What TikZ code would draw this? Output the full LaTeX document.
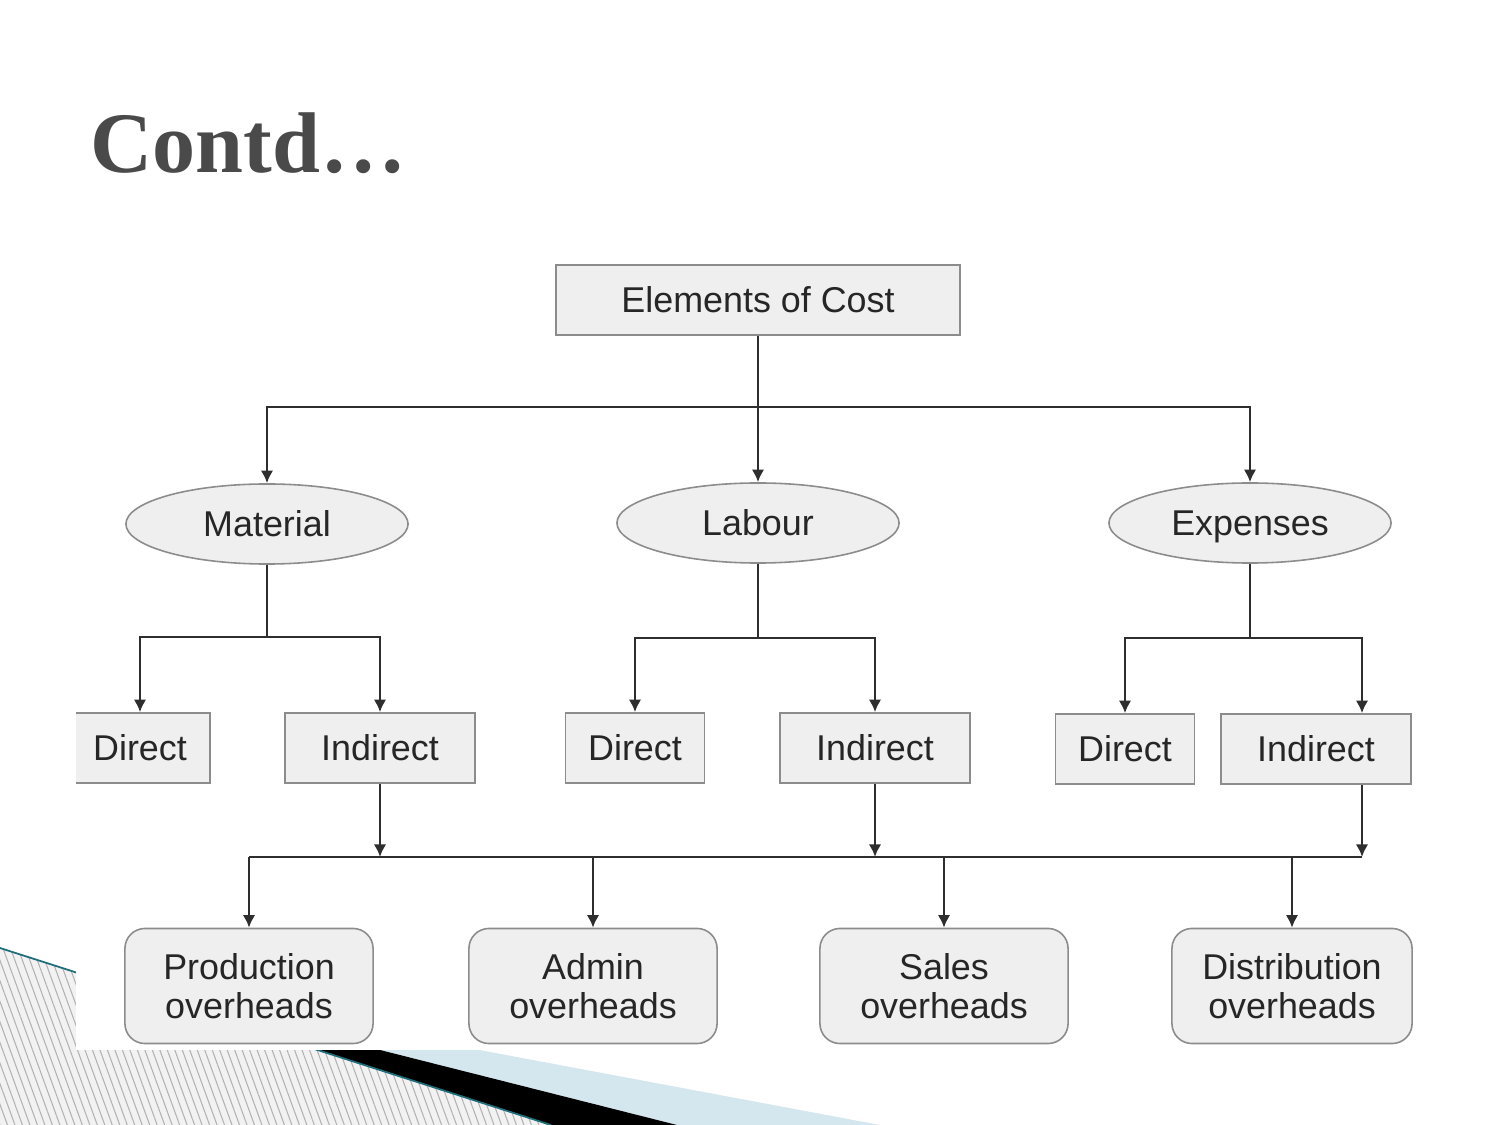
\documentclass[tikz,border=0pt]{standalone}
\usepackage{fontspec}
\setmainfont{Liberation Sans}
\newfontfamily\titlefont{Liberation Serif}
\usepackage{xcolor}
\usetikzlibrary{calc, shapes.geometric, positioning, arrows.meta, patterns.meta}

\definecolor{titlegray}{HTML}{4A4A4A}
\definecolor{boxfill}{HTML}{EFEFEF}
\definecolor{boxline}{HTML}{8C8C8C}
\definecolor{linkline}{HTML}{2E2E2E}
\definecolor{flowteal}{HTML}{1F6E7A}
\definecolor{flowblue}{HTML}{D5E7EE}

\begin{document}
\begin{tikzpicture}[x=0.01cm, y=-0.01cm,
    every node/.style={font=\fontsize{10.2}{11.1}\selectfont, text=black!85},
    oneline/.style={text height=0.72em, text depth=0em},
    costbox/.style={oneline, draw=boxline, fill=boxfill, line width=0.45pt, minimum width=4.04cm, minimum height=0.70cm, inner sep=0pt},
    kindbox/.style={oneline, ellipse, draw=boxline, fill=boxfill, line width=0.45pt, minimum width=2.82cm, minimum height=0.80cm, inner sep=0pt},
    splitbox/.style={oneline, draw=boxline, fill=boxfill, line width=0.45pt, minimum height=0.70cm, inner sep=0pt},
    headbox/.style={draw=boxline, fill=boxfill, line width=0.45pt, rounded corners=0.2cm, minimum width=2.48cm, minimum height=1.15cm, inner sep=0pt, align=center},
    link/.style={draw=linkline, line width=0.7pt},
    arr/.style={link, -{Latex[length=3.6pt, width=3.6pt]}}]
    \useasboundingbox (0,0) rectangle (1500,1125);

    % 1. Slide decoration, bottom left
    \fill[preaction={fill=gray!10}, pattern={Lines[angle=-70, distance=2pt, line width=0.3pt]}, pattern color=gray!60]
        (0,948) -- (551,1125) -- (0,1125) -- cycle;
    \fill[flowblue] (95,978) -- (880,1125) -- (677,1125) -- cycle;
    \fill[black] (95,978) -- (677,1125) -- (551,1125) -- cycle;
    \draw[flowteal, line width=0.5pt] (0,948) -- (551,1125);

    % 2. Title
    \node[font=\titlefont\bfseries\fontsize{24.5}{30}\selectfont, text=titlegray, anchor=base west, inner sep=0pt] (title) at (90,173) {Contd…};

    % 3. Pasted chart area
    \fill[white] (76,230) rectangle (1412,1050);
    \begin{scope}
    \clip (76,230) rectangle (1416,1050);

    % 4. Top and second level
    \node[costbox] (cost) at (758,300) {Elements of Cost};
    \node[kindbox] (mat) at (267,524) {Material};
    \node[kindbox] (lab) at (758,523) {Labour};
    \node[kindbox] (exp) at (1250,523) {Expenses};

    % 5. Direct / Indirect
    \node[splitbox, minimum width=1.40cm] (dmat) at (140,748) {Direct};
    \node[splitbox, minimum width=1.90cm] (imat) at (380,748) {Indirect};
    \node[splitbox, minimum width=1.39cm] (dlab) at (635,748) {Direct};
    \node[splitbox, minimum width=1.90cm] (ilab) at (875,748) {Indirect};
    \node[splitbox, minimum width=1.39cm] (dexp) at (1125,749) {Direct};
    \node[splitbox, minimum width=1.90cm] (iexp) at (1316,749) {Indirect};

    % 6. Overheads
    \node[headbox] (prod) at (249,986) {Production\\overheads};
    \node[headbox] (admin) at (593,986) {Admin\\overheads};
    \node[headbox] (sales) at (944,986) {Sales\\overheads};
    \node[headbox, minimum width=2.40cm] (dist) at (1292,986) {Distribution\\overheads};

    % 7. Connectors
    \coordinate (topbus) at (758,407);
    \draw[arr] (cost.south) -- (lab.north);
    \draw[arr] (topbus) -| (mat.north);
    \draw[arr] (topbus) -| (exp.north);

    \path (iexp.north) ++(46,0) coordinate (iexpin);
    \path (iexp.south) ++(46,0) coordinate (iexpout);

    \draw[arr] (mat.south) -- ++(0,72) -| (dmat.north);
    \draw[arr] (mat.south) -- ++(0,72) -| (imat.north);
    \draw[arr] (lab.south) -- ++(0,74) -| (dlab.north);
    \draw[arr] (lab.south) -- ++(0,74) -| (ilab.north);
    \draw[arr] (exp.south) -- ++(0,74) -| (dexp.north);
    \draw[arr] (exp.south) -- ++(0,74) -| (iexpin);

    \coordinate (lowbusL) at (249,857);
    \coordinate (lowbusR) at (iexpout |- lowbusL);
    \draw[link] (lowbusL) -- (lowbusR);
    \draw[arr] (imat.south) -- (imat.south |- lowbusL);
    \draw[arr] (ilab.south) -- (ilab.south |- lowbusL);
    \draw[arr] (iexpout) -- (lowbusR);
    \foreach \n in {prod, admin, sales, dist}
        \draw[arr] (\n.north |- lowbusL) -- (\n.north);
    \end{scope}
\end{tikzpicture}
\end{document}
